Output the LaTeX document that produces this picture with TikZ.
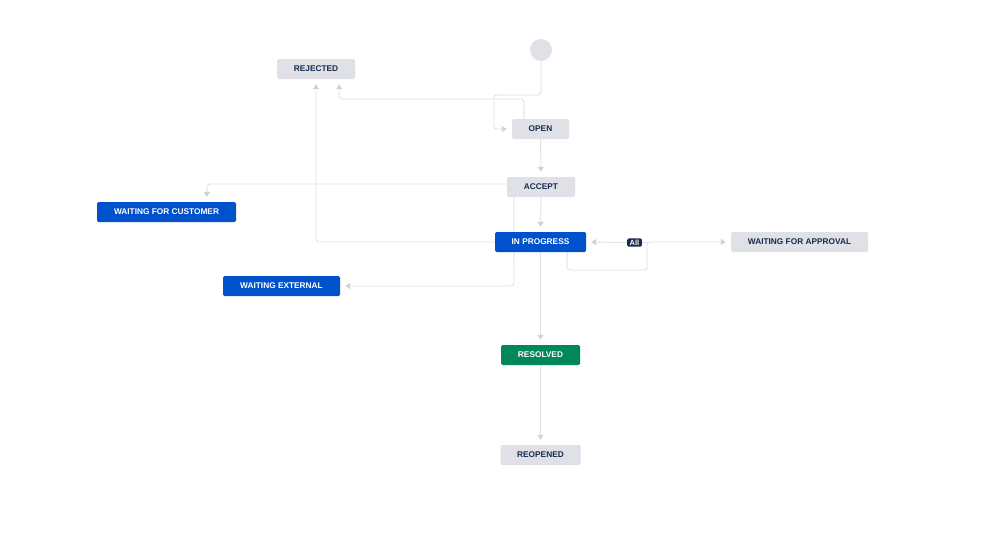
\documentclass[tikz,border=0pt]{standalone}
\usepackage{fontspec}
\setmainfont{Liberation Sans}
\usetikzlibrary{arrows.meta,calc}
\definecolor{boxgray}{HTML}{DFE1E6}
\definecolor{navy}{HTML}{172B4D}
\definecolor{jblue}{HTML}{0052CC}
\definecolor{jgreen}{HTML}{00875A}
\definecolor{linegray}{HTML}{DFE1E6}
\definecolor{tipgray}{HTML}{CDD1D8}
\pgfdeclarelayer{bg}
\pgfsetlayers{bg,main}
\tikzset{
  state/.style={rectangle, rounded corners=1.5pt, minimum height=20pt, inner sep=0pt,
    font=\fontsize{8.3}{10}\selectfont\bfseries},
  todo/.style={state, fill=boxgray, text=navy},
  prog/.style={state, fill=jblue, text=white},
  done/.style={state, fill=jgreen, text=white},
  conn/.style={draw=linegray, line width=0.9pt, rounded corners=3pt,
    -{Triangle[length=5pt,width=6pt,color=tipgray]}, shorten >=5pt},
  plain/.style={draw=linegray, line width=0.9pt, rounded corners=3pt}
}
\begin{document}
\begin{tikzpicture}[x=1pt,y=-1pt]
\useasboundingbox (0,0) rectangle (999,541);
% nodes
\node[circle, fill=boxgray, minimum size=22pt, inner sep=0pt] (start) at (541,50) {};
\node[todo, minimum width=78pt] (rejected) at (316,69) {REJECTED};
\node[todo, minimum width=57pt] (open) at (540.5,129) {OPEN};
\node[todo, minimum width=68pt] (accept) at (541,187) {ACCEPT};
\node[prog, minimum width=139pt] (wfc) at (166.5,212) {WAITING FOR CUSTOMER};
\node[prog, minimum width=91pt] (inprog) at (540.5,242) {IN PROGRESS};
\node[todo, minimum width=137pt] (wfa) at (799.5,242) {WAITING FOR APPROVAL};
\node[prog, minimum width=117pt] (wext) at (281.5,286) {WAITING EXTERNAL};
\node[done, minimum width=79pt] (resolved) at (540.5,355) {RESOLVED};
\node[todo, minimum width=80pt] (reopened) at (540.5,455) {REOPENED};
\node[rectangle, rounded corners=1.5pt, fill=navy, text=white, inner xsep=2.5pt, inner ysep=1.5pt,
  font=\fontsize{7.5}{8}\selectfont\bfseries] (all) at (634.5,242.5) {All};
% connectors
\begin{pgfonlayer}{bg}
\fill[white] (0,0) rectangle (999,541);
\draw[conn] (start.south) -- (541,95) -- (494,95) -- (494,129) -- (open.west);
\draw[conn] ($(open.north west)+(12,0)$) -- (524,99) -- (339,99) -- ($(rejected.south east)+(-16,0)$);
\draw[conn] (open.south) -- (accept.north);
\draw[conn] ($(accept.west)+(0,-3)$) -- (207,184) -- ($(wfc.north west)+(110,0)$);
\draw[conn] ($(accept.south west)+(7,0)$) -- (514,286) -- (wext.east);
\draw[conn] (accept.south) -- (inprog.north);
\draw[conn] (inprog.west) -- (316,242) -- (rejected.south);
\draw[conn] (all.west) -- (inprog.east);
\draw[conn] ($(inprog.south east)+(-19,0)$) -- (567,270) -- (647,270) -- (647,242) -- (wfa.west);
\draw[plain] (all.east) -- (648,242);
\draw[conn] (inprog.south) -- (resolved.north);
\draw[conn] (resolved.south) -- (reopened.north);
\end{pgfonlayer}
\end{tikzpicture}
\end{document}
